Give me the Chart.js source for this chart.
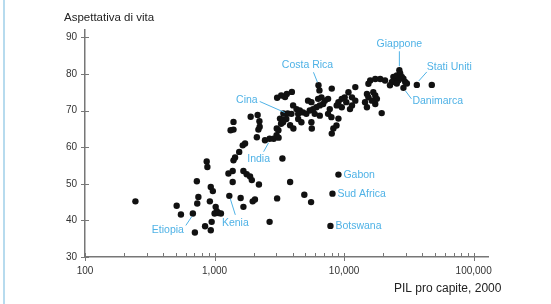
<!DOCTYPE html>
<html>
<head>
<meta charset="utf-8">
<script src="https://cdn.jsdelivr.net/npm/chart.js@4.4.1/dist/chart.umd.min.js"></script>
<style>
  html, body { margin: 0; padding: 0; background: #fff; }
  #wrap { position: relative; width: 551px; height: 304px; }
</style>
</head>
<body>
<div id="wrap"><canvas id="chart"></canvas></div>
<script>
// PIL pro capite (2000) e aspettativa di vita, un punto per paese
const gdp = [
  245, 870, 880, 730, 935, 970, 750, 735, 920, 510, 1020, 1040, 1000, 1070, 1120, 550, 680, 950, 845, 935, 705,
  1280, 1300, 1380, 1670, 1770, 1880, 1940, 1380, 2200, 3830, 1590, 1970, 2050, 1670, 3040, 4930, 5560, 2660,
  9040, 8130, 7840, 3340, 1440, 1550, 1650, 1720, 1400,
  1400, 1400, 1330, 1900, 2150, 2220, 2230, 2180, 3360, 3260, 3110, 3010, 2120, 2450, 2660, 2860, 3120,
  3670, 3040, 3610, 3950, 3020, 3830, 4060, 5630, 8260, 8030, 9040, 19500, 3400, 3200,
  6340, 6450, 8030, 3500, 3270, 5270, 5590, 6300, 6680, 7100, 7520, 6890, 6490, 6110, 5760, 10100, 10400,
  4040, 4290, 4550, 4820, 5110, 5430, 4420, 3920, 3580, 7750, 7520, 7980, 6490, 5930, 8730, 3380, 5590, 4420, 4680,
  26700, 24000, 25500, 27100, 27900, 28700, 26300, 24800, 23400, 25500, 22600, 29600, 30500, 28700, 36400, 47500,
  15900, 17400, 19000, 20700, 12200, 15400, 10800, 11500, 12200, 9590, 9040, 11500, 11100, 9590, 8770,
  15000, 15400, 16800, 17400, 17900, 14500, 15000, 17400, 16400
];
const life = [
  45.2, 56.1, 54.6, 50.7, 49.1, 48.0, 46.4, 44.6, 45.2, 44.0, 43.7, 42.5, 41.9, 42.0, 41.9, 41.6, 41.9, 39.6, 38.4, 37.3, 36.7,
  52.8, 46.7, 53.5, 53.5, 52.6, 52.0, 51.0, 50.5, 49.8, 50.5, 46.1, 45.2, 45.7, 43.7, 46.0, 47.0, 45.0, 39.6,
  52.5, 47.3, 38.5, 56.9, 57.2, 58.7, 60.5, 61.0, 56.4,
  66.9, 64.8, 64.6, 68.3, 68.8, 67.1, 65.6, 64.8, 67.5, 66.4, 64.6, 63.3, 62.7, 61.9, 62.3, 62.3, 62.6,
  69.2, 73.5, 74.5, 75.1, 65.1, 66.0, 65.1, 65.1, 65.1, 63.7, 67.8, 69.3, 69.2, 67.8,
  76.9, 75.5, 76.0, 73.7, 74.1, 72.7, 72.3, 73.2, 73.6, 72.7, 73.2, 71.8, 71.4, 70.9, 70.4, 73.6, 72.3,
  71.4, 70.4, 70.0, 69.5, 69.1, 70.0, 69.1, 69.1, 67.7, 70.4, 69.1, 68.2, 68.6, 69.1, 65.9, 66.8, 66.8, 67.7, 66.8,
  81.0, 79.2, 79.6, 80.1, 79.2, 78.7, 78.3, 77.8, 77.8, 77.4, 76.9, 77.8, 77.4, 76.2, 77.0, 77.0,
  78.2, 78.6, 78.6, 78.2, 76.4, 77.3, 75.0, 73.6, 72.7, 73.2, 72.3, 71.4, 70.4, 70.9, 71.4,
  74.5, 73.6, 75.0, 74.1, 73.2, 72.3, 70.9, 71.8, 72.7
];

const xTicks = [100, 200, 300, 400, 500, 600, 700, 800, 900,
  1000, 2000, 3000, 4000, 5000, 6000, 7000, 8000, 9000,
  10000, 20000, 30000, 40000, 50000, 60000, 70000, 80000, 90000, 100000];
const xLabels = [100, 1000, 10000, 100000];
const yTicks = [30, 40, 50, 60, 70, 80, 90];

const labelNames = ['Giappone', 'Stati Uniti', 'Danimarca', 'Costa Rica', 'Cina', 'India',
  'Gabon', 'Sud Africa', 'Botswana', 'Kenia', 'Etiopia'];
const labelGdp = [26700, 36400, 28700, 6340, 3670, 2660, 9040, 8130, 7840, 1300, 680];
const labelLife = [81.0, 77.0, 76.2, 76.9, 69.2, 62.3, 52.5, 47.3, 38.5, 46.7, 41.9];

const blue = '#4fb2e6';

// dove mettere le etichette rispetto al punto (px)
const labelPos = {
  'Giappone':    { dx: 0,   dy: -26, align: 'center', line: [0, -4, 0, -19] },
  'Stati Uniti': { dx: 10,  dy: -18, align: 'left',   line: [2, -4, 10, -13] },
  'Danimarca':   { dx: 9,   dy: 13,  align: 'left',   line: [2, 3, 8, 11] },
  'Costa Rica':  { dx: -11, dy: -20, align: 'center', line: [-1, -3, -5, -13] },
  'Cina':        { dx: -30, dy: -13, align: 'right',  line: [-3, -1, -28, -12] },
  'India':       { dx: -11, dy: 20,  align: 'center', line: [-1, 4, -6, 13] },
  'Gabon':       { dx: 5,   dy: 0,   align: 'left' },
  'Sud Africa':  { dx: 5,   dy: 0,   align: 'left' },
  'Botswana':    { dx: 5,   dy: 0,   align: 'left' },
  'Kenia':       { dx: 6,   dy: 27,  align: 'center', line: [1, 3, 6, 19] },
  'Etiopia':     { dx: -25, dy: 17,  align: 'center', line: [-1, 3, -7, 12] }
};

const extras = {
  id: 'extras',
  beforeDraw(chart) {
    const ctx = chart.ctx;
    ctx.save();
    ctx.fillStyle = '#b7dbee';
    ctx.fillRect(3, 0, 2, chart.height);
    ctx.restore();
  },
  afterDraw(chart) {
    const ctx = chart.ctx;
    const xs = chart.scales.x, ys = chart.scales.y;
    const area = chart.chartArea;
    ctx.save();
    // tacche degli assi
    ctx.strokeStyle = '#777';
    ctx.lineWidth = 1;
    ctx.beginPath();
    yTicks.forEach(v => {
      const y = Math.round(ys.getPixelForValue(v)) + 0.5;
      ctx.moveTo(area.left - 4, y);
      ctx.lineTo(area.left + 4, y);
    });
    xTicks.forEach(v => {
      const x = Math.round(xs.getPixelForValue(v)) + 0.5;
      const major = xLabels.includes(v);
      ctx.moveTo(x, area.bottom - 4);
      ctx.lineTo(x, area.bottom + (major ? 4 : 0));
    });
    ctx.stroke();

    // titoli degli assi
    ctx.fillStyle = '#222';
    ctx.textBaseline = 'middle';
    ctx.textAlign = 'left';
    ctx.font = '11.5px "Liberation Sans", Arial, sans-serif';
    ctx.fillText('Aspettativa di vita', 64, 18);
    ctx.font = '12px "Liberation Sans", Arial, sans-serif';
    ctx.fillText('PIL pro capite, 2000', 394, 289);

    // nomi dei paesi
    ctx.font = '10.5px "Liberation Sans", Arial, sans-serif';
    ctx.fillStyle = blue;
    ctx.strokeStyle = blue;
    labelNames.forEach((name, i) => {
      const px = xs.getPixelForValue(labelGdp[i]);
      const py = ys.getPixelForValue(labelLife[i]);
      const p = labelPos[name];
      if (p.line) {
        ctx.beginPath();
        ctx.moveTo(px + p.line[0], py + p.line[1]);
        ctx.lineTo(px + p.line[2], py + p.line[3]);
        ctx.stroke();
      }
      ctx.textAlign = p.align;
      ctx.fillText(name, px + p.dx, py + p.dy);
    });
    ctx.restore();
  }
};

new Chart(document.getElementById('chart'), {
  type: 'scatter',
  data: {
    datasets: [{
      data: gdp.map((g, i) => ({ x: g, y: life[i] })),
      backgroundColor: '#111',
      borderWidth: 0,
      pointRadius: 3.2
    }]
  },
  options: {
    responsive: true,
    maintainAspectRatio: false,
    animation: false,
    layout: { padding: { left: 0, top: 30, right: 63, bottom: 0 } },
    plugins: { legend: { display: false }, tooltip: { enabled: false } },
    scales: {
      x: {
        type: 'logarithmic',
        min: 100,
        max: 129000,
        afterBuildTicks: s => { s.ticks = xTicks.map(v => ({ value: v })); },
        afterFit: s => { s.height = 47; },
        grid: { display: false, drawTicks: false },
        border: { color: '#777', width: 1.5 },
        ticks: {
          autoSkip: false,
          maxRotation: 0,
          padding: 8,
          color: '#333',
          font: { family: '"Liberation Sans", Arial, sans-serif', size: 10 },
          callback: v => xLabels.includes(v) ? v.toLocaleString('en-US') : ''
        }
      },
      y: {
        min: 30,
        max: 92,
        afterBuildTicks: s => { s.ticks = yTicks.map(v => ({ value: v })); },
        afterFit: s => { s.width = 85; },
        grid: { display: false, drawTicks: false },
        border: { color: '#777', width: 1.5 },
        ticks: {
          padding: 8,
          color: '#333',
          font: { family: '"Liberation Sans", Arial, sans-serif', size: 10 },
          callback: v => v
        }
      }
    }
  },
  plugins: [extras]
});
</script>
</body>
</html>
